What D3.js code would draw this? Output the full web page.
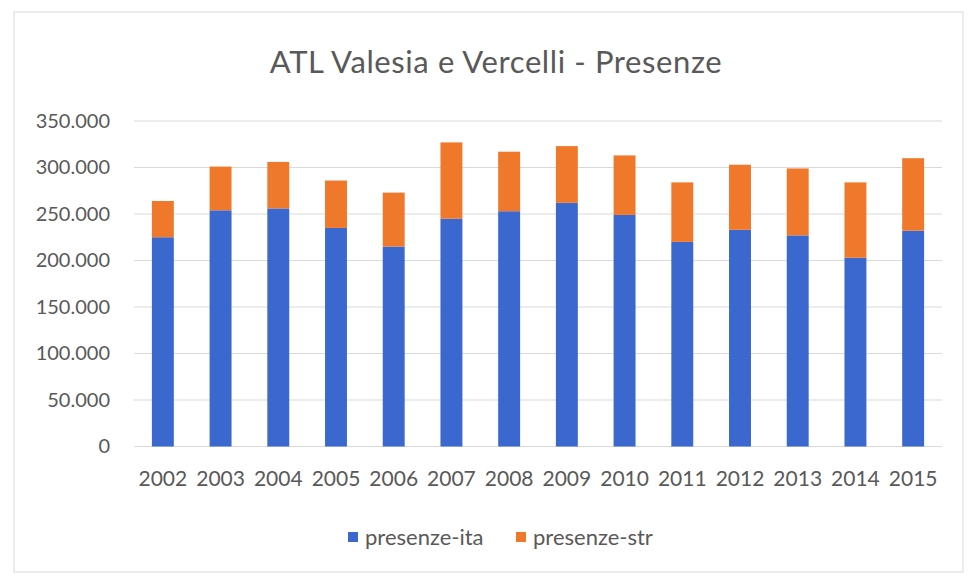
<!DOCTYPE html>
<html>
<head>
<meta charset="utf-8">
<script src="https://cdn.jsdelivr.net/npm/d3@7"></script>
<style>
  body { margin: 0; background: #fff; }
  text { font-family: Lato, "Open Sans", sans-serif; fill: #595959; }
</style>
</head>
<body>
<div id="chart-container"></div>
<script>
// DATA
const years = ["2002", "2003", "2004", "2005", "2006", "2007", "2008",
  "2009", "2010", "2011", "2012", "2013", "2014", "2015"];
const presenzeIta = [225000, 254000, 256000, 235000, 215000, 245000, 253000,
  262000, 249000, 220000, 233000, 227000, 203000, 232000];
const presenzeStr = [39000, 47000, 50000, 51000, 58000, 82000, 64000,
  61000, 64000, 64000, 70000, 72000, 81000, 78000];
const yTicks = [0, 50000, 100000, 150000, 200000, 250000, 300000, 350000];
const seriesNames = ["presenze-ita", "presenze-str"];
const seriesColors = ["#3b68cf", "#f0782a"];

// CONST
const width = 971, height = 576;
const margin = { top: 121, bottom: 129.5, left: 134, right: 29 };

const svg = d3.select("#chart-container")
  .append("svg")
  .attr("width", width)
  .attr("height", height);

// chart border
svg.append("rect")
  .attr("x", 14).attr("y", 12)
  .attr("width", 949).attr("height", 560)
  .attr("fill", "#fff")
  .attr("stroke", "#d9d9d9");

// title
svg.append("text")
  .attr("x", 496).attr("y", 73)
  .attr("text-anchor", "middle")
  .attr("font-size", 31)
  .attr("letter-spacing", 0.6)
  .text("ATL Valesia e Vercelli - Presenze");

// SCALES
const xScale = d3.scaleBand()
  .domain(years)
  .range([margin.left, width - margin.right])
  .paddingInner(0.62)
  .paddingOuter(0.31);

const yScale = d3.scaleLinear()
  .domain([0, 350000])
  .range([height - margin.bottom, margin.top]);

// gridlines
svg.append("g")
  .selectAll("line")
  .data(yTicks)
  .join("line")
  .attr("x1", margin.left)
  .attr("x2", width - margin.right)
  .attr("y1", (d) => yScale(d))
  .attr("y2", (d) => yScale(d))
  .attr("stroke", "#d9d9d9")
  .attr("stroke-width", 1);

// AXES
const fmt = (d) => d3.format(",")(d).replace(/,/g, ".");

const yAxis = d3.axisLeft(yScale).tickValues(yTicks).tickFormat(fmt).tickSize(0).tickPadding(24);
svg.append("g")
  .attr("class", "axis y-axis")
  .attr("transform", `translate(${margin.left},0)`)
  .call(yAxis)
  .call((g) => g.select(".domain").remove())
  .selectAll("text")
  .attr("font-size", 20)
  .attr("fill", "#595959");

const xAxis = d3.axisBottom(xScale).tickSize(0).tickPadding(25);
svg.append("g")
  .attr("class", "axis x-axis")
  .attr("transform", `translate(0,${height - margin.bottom})`)
  .call(xAxis)
  .call((g) => g.select(".domain").remove())
  .selectAll("text")
  .attr("font-size", 21)
  .attr("fill", "#595959");

// stacked bars
const table = years.map((y, i) => ({ year: y, "presenze-ita": presenzeIta[i], "presenze-str": presenzeStr[i] }));
const stacked = d3.stack().keys(seriesNames)(table);

svg.append("g")
  .selectAll("g")
  .data(stacked)
  .join("g")
  .attr("fill", (d, i) => seriesColors[i])
  .selectAll("rect")
  .data((d) => d)
  .join("rect")
  .attr("x", (d) => xScale(d.data.year))
  .attr("width", xScale.bandwidth())
  .attr("y", (d) => yScale(d[1]))
  .attr("height", (d) => yScale(d[0]) - yScale(d[1]));

// legend
const legendX = [348, 516];
const legend = svg.append("g")
  .selectAll("g")
  .data(seriesNames)
  .join("g")
  .attr("transform", (d, i) => `translate(${legendX[i]},537)`);

legend.append("rect")
  .attr("x", 0).attr("y", -5)
  .attr("width", 10).attr("height", 10)
  .attr("fill", (d, i) => seriesColors[i]);

legend.append("text")
  .attr("x", 17)
  .attr("dy", "0.35em")
  .attr("font-size", 22)
  .text((d) => d);
</script>
</body>
</html>
